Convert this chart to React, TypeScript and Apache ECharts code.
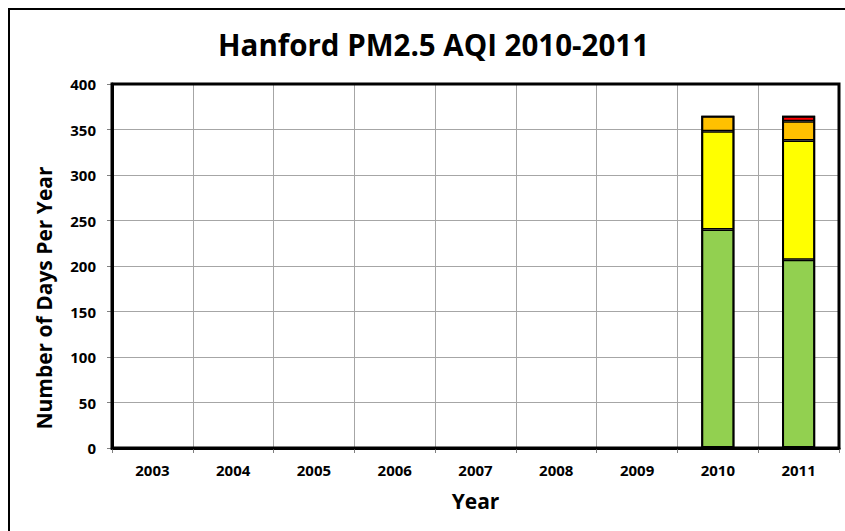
import React, { useEffect, useRef } from "react";
import * as echarts from "echarts";

const years = ["2003", "2004", "2005", "2006", "2007", "2008", "2009", "2010", "2011"];
const good = [0, 0, 0, 0, 0, 0, 0, 240, 207];
const moderate = [0, 0, 0, 0, 0, 0, 0, 108, 131];
const usg = [0, 0, 0, 0, 0, 0, 0, 17, 21];
const unhealthy = [0, 0, 0, 0, 0, 0, 0, 0, 6];

const seriesNames = ["Good", "Moderate", "Unhealthy for Sensitive Groups", "Unhealthy"];
const seriesColors = ["#92D050", "#FFFF00", "#FFC000", "#FF0000"];
const seriesData = [good, moderate, usg, unhealthy];

const titleText = "Hanford PM2.5 AQI 2010-2011";
const yAxisTitle = "Number of Days Per Year";
const xAxisTitle = "Year";

const FONT = "'Open Sans', 'Noto Sans', sans-serif";

export default function App() {
  const ref = useRef<HTMLDivElement>(null);
  useEffect(() => {
    if (!ref.current) return;
    const chart = echarts.init(ref.current, null, { renderer: "svg" });
    const totals = years.map((_, j) => seriesData.reduce((s, d) => s + d[j], 0));
    chart.setOption({
      animation: false,
      backgroundColor: "#ffffff",
      title: {
        text: titleText,
        left: 213,
        top: 24,
        textStyle: { fontFamily: FONT, fontWeight: "bold", fontSize: 29.5, color: "#000" },
      },
      graphic: [
        {
          type: "rect",
          shape: { x: 9, y: 9, width: 860, height: 560 },
          style: { fill: "none", stroke: "#000", lineWidth: 2 },
          silent: true,
        },
        {
          type: "rect",
          shape: { x: 112, y: 84, width: 727, height: 364 },
          style: { fill: "none", stroke: "#000", lineWidth: 3 },
          silent: true,
          z: 100,
        },
        {
          type: "text",
          x: 44,
          y: 298,
          rotation: Math.PI / 2,
          style: {
            text: yAxisTitle,
            fontFamily: FONT,
            fontWeight: "bold",
            fontSize: 21,
            fill: "#000",
            align: "center",
            verticalAlign: "middle",
          },
          silent: true,
        },
      ],
      grid: { left: 112, top: 84, right: 6, bottom: 83, containLabel: false },
      xAxis: {
        type: "category",
        data: years,
        name: xAxisTitle,
        nameLocation: "middle",
        nameGap: 42,
        nameTextStyle: { fontFamily: FONT, fontWeight: "bold", fontSize: 21, color: "#000" },
        axisLine: { show: true, lineStyle: { color: "#000", width: 3 } },
        axisTick: { show: true, alignWithLabel: false, length: 5, lineStyle: { color: "#808080", width: 1 } },
        axisLabel: { fontFamily: FONT, fontWeight: "bold", fontSize: 15, color: "#000", margin: 14 },
        splitLine: { show: true, lineStyle: { color: "#a6a6a6", width: 1 } },
      },
      yAxis: {
        type: "value",
        min: 0,
        max: 400,
        interval: 50,
        axisLine: { show: true, lineStyle: { color: "#000", width: 3 } },
        axisTick: { show: true, length: 5, lineStyle: { color: "#808080", width: 1 } },
        axisLabel: { fontFamily: FONT, fontWeight: "bold", fontSize: 15, color: "#000", margin: 16 },
        splitLine: { show: true, lineStyle: { color: "#a6a6a6", width: 1 } },
      },
      series: [
        ...seriesData.map((d, i) => ({
          name: seriesNames[i],
          type: "bar",
          stack: "total",
          data: d.map((v) => (v === 0 ? null : v)),
          barWidth: "41%",
          barGap: "-100%",
          itemStyle: { color: seriesColors[i], borderColor: "#000", borderWidth: 1.5 },
        })),
        {
          name: "outline",
          type: "bar",
          stack: "outline",
          data: totals.map((v) => (v === 0 ? null : v)),
          barWidth: "41%",
          barGap: "-100%",
          silent: true,
          z: 3,
          itemStyle: { color: "rgba(0,0,0,0)", borderColor: "#000", borderWidth: 2 },
        },
      ],
    });
    return () => chart.dispose();
  }, []);
  return (
    <div
      ref={ref}
      style={{ position: "fixed", left: 0, top: 0, width: 845, height: 531 }}
    />
  );
}
